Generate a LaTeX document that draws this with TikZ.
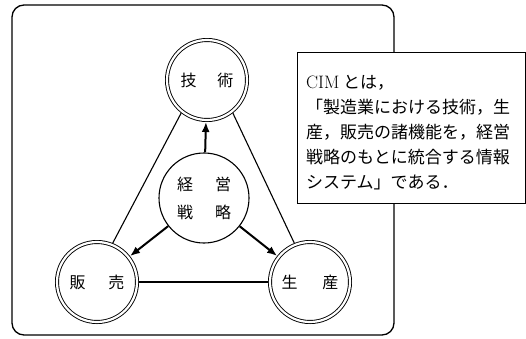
\documentclass[tikz,border=0pt]{standalone}
\usepackage{fontspec}
\newfontfamily\cjk{Noto Sans CJK JP}
\usetikzlibrary{arrows.meta}
\begin{document}
\begin{tikzpicture}[x=1pt,y=-1pt,
  ring/.style={circle, draw, line width=0.9pt, double, double distance=2.2pt,
    minimum size=80pt, inner sep=0pt, outer sep=2pt,
    font=\cjk\fontsize{16}{16}\selectfont},
  core/.style={circle, draw, line width=1.1pt, minimum size=90pt, inner sep=0pt,
    align=center, font=\cjk\fontsize{16}{28}\selectfont},
  tri/.style={line width=1.1pt},
  push/.style={line width=2pt, -{Latex[length=10pt,width=8pt]}},
  frame/.style={line width=1.3pt, rounded corners=12pt},
  note/.style={draw, line width=1.3pt, fill=white, anchor=north west,
    minimum width=228pt, minimum height=151pt, inner sep=0pt},
  notetext/.style={anchor=north west, align=left, inner sep=0pt,
    font=\cjk\fontsize{17}{25}\selectfont}
]
\useasboundingbox (0,0) rectangle (526,338);
\draw[frame] (12,5) rectangle (394,335);
\node[ring] (gi)  at (207,80)  {技\hspace{21pt}術};
\node[ring] (han) at (97,282)  {販\hspace{23pt}売};
\node[ring] (sei) at (310,282) {生\hspace{25pt}産};
\node[core] (kei) at (204,198) {経\hspace{22pt}営\\戦\hspace{22pt}略};
\draw[tri] (gi.-128) -- (han.68);
\draw[tri] (gi.-52) -- (sei.112);
\draw[tri] (han.east) -- (sei.west);
\draw[push] (kei) -- (gi);
\draw[push] (kei) -- (han);
\draw[push] (kei) -- (sei);
\node[note] (box) at (297,52) {};
\node[notetext] (txt) at (306,75) {{\rmfamily\fontsize{18}{25}\selectfont CIM} とは，\\「製造業における技術，生\\産，販売の諸機能を，経営\\戦略のもとに統合する情報\\システム」である．};
\end{tikzpicture}
\end{document}
